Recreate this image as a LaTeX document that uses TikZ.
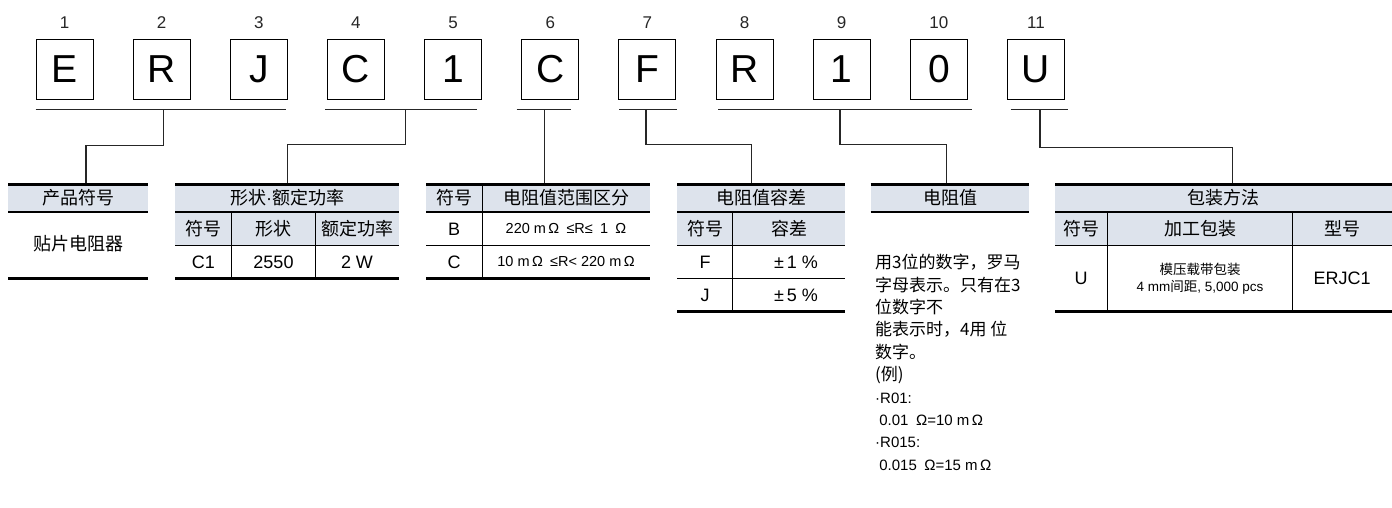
\documentclass[tikz,border=0pt]{standalone}
\usepackage{fontspec}
\setmainfont{Liberation Sans}
\newfontfamily\cjk{Noto Sans CJK SC}
\usetikzlibrary{positioning}
\definecolor{headfill}{RGB}{221,227,236}

\begin{document}
\begin{tikzpicture}[x=1pt,y=-1pt,
  digitbox/.style={draw, line width=1pt, minimum width=57pt, minimum height=60pt, inner sep=0pt, font=\fontsize{39}{39}\selectfont},
  posnum/.style={inner sep=0pt, text=black!85, font=\fontsize{17}{17}\selectfont},
  link/.style={line width=1.3pt, draw=black!85},
  thickrule/.style={line width=3pt},
  thinrule/.style={line width=1.1pt},
  cell/.style={inner sep=0pt, font=\cjk\fontsize{18}{18}\selectfont},
  lcell/.style={inner sep=0pt, font=\fontsize{18}{18}\selectfont},
  scell/.style={inner sep=0pt, font=\fontsize{14.5}{14.5}\selectfont}]
\useasboundingbox (0,0) rectangle (1392,507);

% Vẽ các ô ký tự và số thứ tự
\foreach \ch [count=\i] in {E,R,J,C,1,C,F,R,1,0,U}{
  \node[digitbox] (b\i) at ({64.5+(\i-1)*97.15},69) {\ch};
  \node[posnum] (n\i) at ({64.5+(\i-1)*97.15},23) {\i};
}

% Vẽ gạch dưới các nhóm
\draw[link] (35.7,109.3) -- (285.7,109.3);
\draw[link] (325,109.3) -- (476.7,109.3);
\draw[link] (516.7,109.3) -- (571,109.3);
\draw[link] (619,109.3) -- (676.7,109.3);
\draw[link] (718.3,109.3) -- (972.3,109.3);
\draw[link] (1010.7,109.3) -- (1067.7,109.3);

\coordinate (u1) at (163.3,109.3);
\coordinate (u2) at (405.7,109.3);
\coordinate (u3) at (544.3,109.3);
\coordinate (u4) at (646,109.3);
\coordinate (u5) at (840,109.3);
\coordinate (u6) at (1040,109.3);
\coordinate (t1) at (86,184);
\coordinate (t2) at (287.7,184);
\coordinate (t3) at (544.3,184);
\coordinate (t4) at (751.7,184);
\coordinate (t5) at (946.7,184);
\coordinate (t6) at (1232.7,184);

% Vẽ đường nối xuống bảng
\draw[link] (u1) -- ++(0,36) -| (t1);
\draw[link] (u2) -- ++(0,35) -| (t2);
\draw[link] (u3) -- (t3);
\draw[link] (u4) -- ++(0,35) -| (t4);
\draw[link] (u5) -- ++(0,35) -| (t5);
\draw[link] (u6) -- ++(0,38) -| (t6);

% Bảng 1
\fill[headfill] (8.3,184) rectangle (147.7,212);
\draw[thickrule] (8.3,184) -- (147.7,184);
\draw[thinrule] (8.3,212) -- (147.7,212);
\draw[thickrule] (8.3,278.3) -- (147.7,278.3);
\node[cell] (h1) at (78,198) {产品符号};
\node[cell] (c1) at (78,244) {贴片电阻器};

% Bảng 2
\fill[headfill] (175,184) rectangle (398.7,245.7);
\draw[thickrule] (175,184) -- (398.7,184);
\draw[thinrule] (175,212) -- (398.7,212);
\draw[thinrule] (175,245.7) -- (398.7,245.7);
\draw[thinrule] (231.7,212) -- (231.7,278.3);
\draw[thinrule] (315.3,212) -- (315.3,278.3);
\draw[thickrule] (175,278.3) -- (398.7,278.3);
\node[cell] (h2) at (287,198) {形状{\normalfont ·}额定功率};
\node[cell] (h2a) at (203.3,229) {符号};
\node[cell] (h2b) at (273.5,229) {形状};
\node[cell] (h2c) at (357,229) {额定功率};
\node[lcell] (c2a) at (203.3,262) {C1};
\node[lcell] (c2b) at (273.5,262) {2550};
\node[lcell] (c2c) at (357,262) {2 W};

% Bảng 3
\fill[headfill] (426,184) rectangle (650,212);
\draw[thickrule] (426,184) -- (650,184);
\draw[thinrule] (426,212) -- (650,212);
\draw[thinrule] (426,245.7) -- (650,245.7);
\draw[thinrule] (482.3,184) -- (482.3,278.3);
\draw[thickrule] (426,278.3) -- (650,278.3);
\node[cell] (h3a) at (454,198) {符号};
\node[cell] (h3b) at (566,198) {电阻值范围区分};
\node[lcell] (c3a) at (454,229) {B};
\node[scell] (c3b) at (566,229) {220 m\,Ω\enspace≤R≤\enspace1\enspace Ω};
\node[lcell] (c3c) at (454,262) {C};
\node[scell] (c3d) at (566,262) {10 m\,Ω\enspace≤R< 220 m\,Ω};

% Bảng 4
\fill[headfill] (677.3,184) rectangle (845,245.7);
\draw[thickrule] (677.3,184) -- (845,184);
\draw[thinrule] (677.3,212) -- (845,212);
\draw[thinrule] (677.3,245.7) -- (845,245.7);
\draw[thinrule] (677.3,278.3) -- (845,278.3);
\draw[thinrule] (732.7,212) -- (732.7,311.3);
\draw[thickrule] (677.3,311.3) -- (845,311.3);
\node[cell] (h4) at (761,198) {电阻值容差};
\node[cell] (h4a) at (705,229) {符号};
\node[cell] (h4b) at (789,229) {容差};
\node[lcell] (c4a) at (705,262) {F};
\node[lcell] (c4b) at (796,262) {±\,1 \%};
\node[lcell] (c4c) at (705,295) {J};
\node[lcell] (c4d) at (796,295) {±\,5 \%};

% Bảng 5
\fill[headfill] (870.7,184) rectangle (1029,212);
\draw[thickrule] (870.7,184) -- (1029,184);
\draw[thinrule] (870.7,212) -- (1029,212);
\node[cell] (h5) at (950,198) {电阻值};
\node[anchor=north west, inner sep=0pt, align=left, font=\cjk\fontsize{17}{22.4}\selectfont] (note) at (875,254)
  {用3位的数字，罗马\\字母表示。只有在3\\位数字不\\能表示时，4用 位\\数字。\\(例)\\
   {\normalfont\fontsize{15}{22.4}\selectfont ·R01:}\\
   {\normalfont\fontsize{15}{22.4}\selectfont\ 0.01\enspace Ω=10 m\,Ω}\\
   {\normalfont\fontsize{15}{22.4}\selectfont ·R015:}\\
   {\normalfont\fontsize{15}{22.4}\selectfont\ 0.015\enspace Ω=15 m\,Ω}};

% Bảng 6
\fill[headfill] (1055,184) rectangle (1392,245.7);
\draw[thickrule] (1055,184) -- (1392,184);
\draw[thinrule] (1055,212) -- (1392,212);
\draw[thinrule] (1055,245.7) -- (1392,245.7);
\draw[thinrule] (1107.3,212) -- (1107.3,311.3);
\draw[thinrule] (1292.3,212) -- (1292.3,311.3);
\draw[thickrule] (1055,311.3) -- (1392,311.3);
\node[cell] (h6) at (1223,198) {包装方法};
\node[cell] (h6a) at (1081,229) {符号};
\node[cell] (h6b) at (1200,229) {加工包装};
\node[cell] (h6c) at (1342,229) {型号};
\node[lcell] (c6a) at (1081,278) {U};
\node[inner sep=0pt, align=center, font=\fontsize{13.5}{17}\selectfont] (c6b) at (1200,278.5)
  {{\cjk 模压载带包装}\\4 mm{\cjk 间距}, 5,000 pcs};
\node[lcell] (c6c) at (1342,278) {ERJC1};
\end{tikzpicture}
\end{document}
